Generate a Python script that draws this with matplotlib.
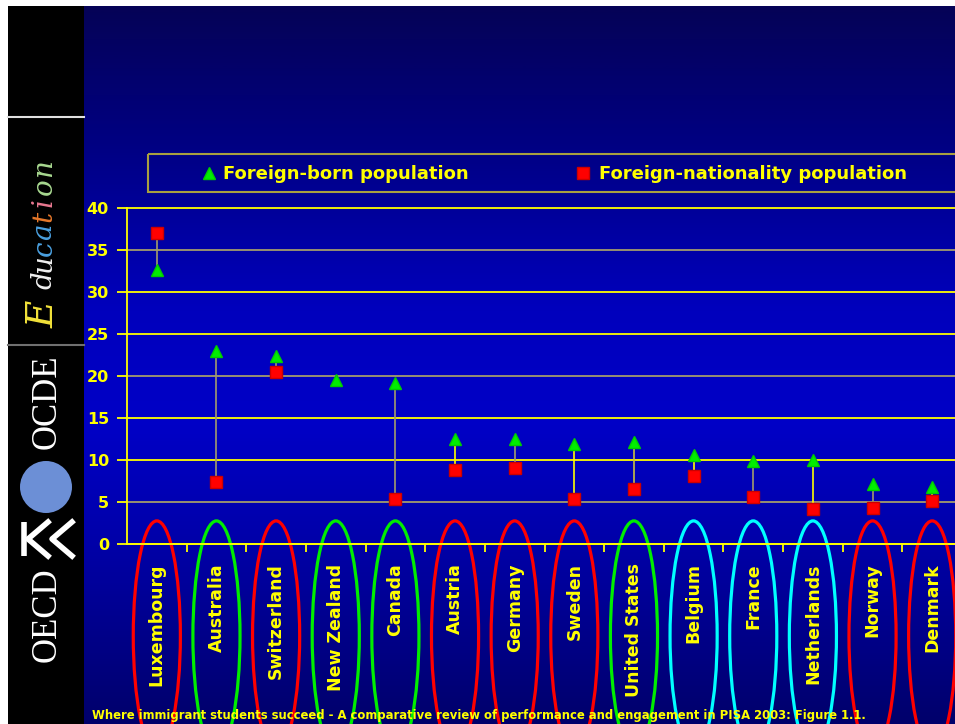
import numpy as np
import matplotlib
matplotlib.use("Agg")
import matplotlib.pyplot as plt
from matplotlib.patches import Ellipse, Rectangle, Circle
from matplotlib.lines import Line2D
from matplotlib.colors import LinearSegmentedColormap

# ---- data -------------------------------------------------------------
countries = ["Luxembourg", "Australia", "Switzerland", "New Zealand", "Canada",
             "Austria", "Germany", "Sweden", "United States", "Belgium",
             "France", "Netherlands", "Norway", "Denmark"]
foreign_born = [32.6, 23.0, 22.4, 19.5, 19.2, 12.5, 12.5, 11.9, 12.2, 10.6,
                9.9, 10.0, 7.1, 6.8]
foreign_nationality = [37.0, 7.4, 20.5, np.nan, 5.3, 8.8, 9.0, 5.3, 6.6, 8.1,
                       5.6, 4.2, 4.3, 5.1]
ring_group = ["red", "green", "red", "green", "green", "red", "red", "red",
              "green", "cyan", "cyan", "cyan", "red", "red"]
y_ticks = [0, 5, 10, 15, 20, 25, 30, 35, 40]

# ---- styling ----------------------------------------------------------
YEL = "#ffff00"
DIM = "#a39c6c"
ring_colors = {"red": "#ff0000", "green": "#00ee00", "cyan": "#00ffff"}
grid_colors = [YEL, DIM, YEL, YEL, DIM, YEL, YEL, DIM, YEL]
stem_colors = [DIM, DIM, DIM, DIM, DIM, YEL, DIM, YEL, "#c8c040", YEL,
               DIM, YEL, DIM, YEL]
FONT = "DejaVu Sans"
plt.rcParams["font.family"] = [FONT]

W, H = 955, 724
fig = plt.figure(figsize=(W / 100, H / 100), dpi=100)
fig.patch.set_facecolor("white")

# full-figure canvas in pixel coordinates (y downwards)
bg = fig.add_axes([0, 0, 1, 1], zorder=-5)
bg.set_xlim(0, W)
bg.set_ylim(H, 0)
bg.axis("off")

stops = [(0.0, (0.02, 0.01, 0.34)), (0.2, (0.0, 0.0, 0.52)),
         (0.42, (0.0, 0.0, 0.74)), (0.58, (0.0, 0.0, 0.78)),
         (0.75, (0.0, 0.0, 0.66)), (1.0, (0.0, 0.0, 0.42))]
cmap = LinearSegmentedColormap.from_list("slide", stops)
grad = np.linspace(0, 1, 400).reshape(-1, 1)
bg.imshow(grad, cmap=cmap, aspect="auto", extent=[84, W, H, 6],
          interpolation="bilinear")

# left black band with logo
bg.add_patch(Rectangle((8, 6), 76, H - 6, facecolor="black", edgecolor="none"))
bg.plot([8, 84], [117, 117], color="#e0e0e0", lw=1.5)
bg.plot([8, 84], [345, 345], color="#707070", lw=1.5)

edu_letters = [("E", "#f2e23a", 314, 27), ("d", "#f0f0f0", 280, 20),
               ("u", "#f0f0f0", 264, 20), ("c", "#4aa0e0", 248, 20),
               ("a", "#4aa0e0", 232, 20), ("t", "#e8782a", 216, 20),
               ("i", "#e87890", 203, 20), ("o", "#a8d890", 187, 20),
               ("n", "#a8d890", 168, 20)]
for ch, col, yy, sz in edu_letters:
    bg.text(44, yy, ch, color=col, fontsize=sz, rotation=90,
            ha="center", va="center", family="DejaVu Serif", style="italic")

bg.text(47, 402, "OCDE", color="white", fontsize=25, rotation=90,
        ha="center", va="center", family="Liberation Serif")
bg.add_patch(Circle((46, 487), 26, facecolor="#6c8fd6", edgecolor="none"))
bg.plot([24, 24], [522, 556], color="white", lw=4, solid_capstyle="butt")
bg.plot([48, 28, 48], [522, 539, 556], color="white", lw=4)
bg.plot([72, 52, 72], [522, 539, 556], color="white", lw=4)
bg.text(47, 615, "OECD", color="white", fontsize=25, rotation=90,
        ha="center", va="center", family="Liberation Serif")

# legend box
bg.add_patch(Rectangle((148, 154), 830, 38, facecolor="none",
                       edgecolor="#a8a040", lw=1.5))
bg.add_line(Line2D([209], [173], marker="^", ms=9, color="#00ee00",
                   mec="#00cc00", ls="none"))
bg.text(223, 174, "Foreign-born population", color=YEL, fontsize=13,
        fontweight="bold", ha="left", va="center")
bg.add_line(Line2D([583], [173], marker="s", ms=8, color="#ff0000",
                   mec="#cc0000", ls="none"))
bg.text(599, 174, "Foreign-nationality population", color=YEL, fontsize=13,
        fontweight="bold", ha="left", va="center")

# ---- main chart -------------------------------------------------------
ax_left, ax_right, ax_top, ax_bot = 127, 962, 208, 544
ax = fig.add_axes([ax_left / W, 1 - ax_bot / H, (ax_right - ax_left) / W,
                   (ax_bot - ax_top) / H])
ax.patch.set_alpha(0)
n = len(countries)
x = np.arange(n) + 0.5
ax.set_xlim(0, n)
ax.set_ylim(0, 40)

for v, c in zip(y_ticks, grid_colors):
    ax.axhline(v, color=c, lw=1.3, zorder=1, clip_on=False)

born = np.array(foreign_born)
nat = np.array(foreign_nationality)
has = ~np.isnan(nat)
ax.vlines(x[has], nat[has], born[has],
          colors=[c for c, h in zip(stem_colors, has) if h], lw=1.2, zorder=2)
ax.plot(x, born, ls="none", marker="^", ms=9, color="#00ee00",
        mec="#00cc00", zorder=4)
ax.plot(x, nat, ls="none", marker="s", ms=8, color="#ff0000",
        mec="#cc0000", zorder=4)

# rings around the country names
for xi, g in zip(x, ring_group):
    ax.add_patch(Ellipse((xi, -10.95), 0.79, 27.4, facecolor="none",
                         edgecolor=ring_colors[g], lw=2.3, clip_on=False,
                         zorder=1))

for side in ("top", "right"):
    ax.spines[side].set_visible(False)
for side in ("left", "bottom"):
    ax.spines[side].set_color(YEL)
    ax.spines[side].set_linewidth(1.3)
    ax.spines[side].set_zorder(3)

ax.set_yticks(y_ticks)
ax.set_yticklabels([str(v) for v in y_ticks])
ax.tick_params(axis="y", colors=YEL, length=7, width=1.3, pad=6,
               labelsize=11.5)
for lab in ax.get_yticklabels():
    lab.set_fontweight("bold")

ax.set_xticks(x)
ax.set_xticklabels(countries, rotation=90, fontsize=12.5, fontweight="bold",
                   color=YEL, va="top", ha="center")
ax.tick_params(axis="x", which="major", length=0, pad=14)
ax.set_xticks(np.arange(1, n), minor=True)
ax.tick_params(axis="x", which="minor", length=6, width=1.3, color=YEL)

fig.text(92 / W, 1 - 715 / H,
         "Where immigrant students succeed - A comparative review of "
         "performance and engagement in PISA 2003: Figure 1.1.",
         color=YEL, fontsize=8.4, fontweight="bold", ha="left",
         va="center", zorder=10)

fig.savefig("out.png", dpi=100, facecolor=fig.get_facecolor())
